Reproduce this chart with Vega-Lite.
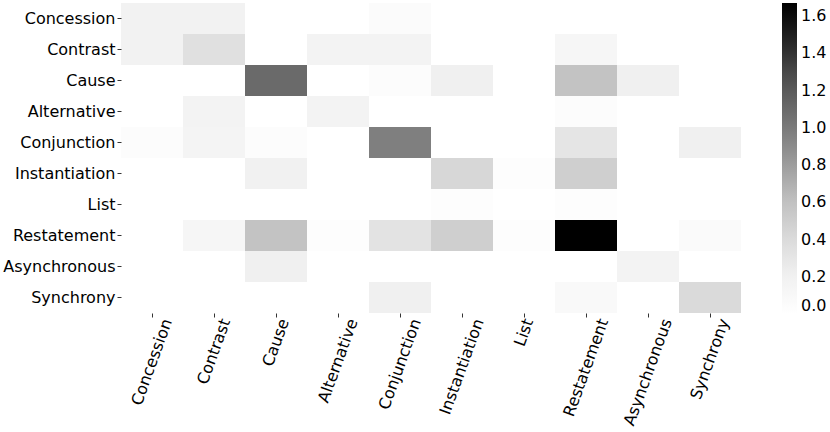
{
  "$schema": "https://vega.github.io/schema/vega-lite/v6.json",
  "width": 620,
  "height": 310,
  "padding": {"left": 2, "top": 3, "right": 0, "bottom": 0},
  "background": "white",
  "config": {
    "view": {"stroke": null},
    "axis": {"labelFont": "DejaVu Sans", "labelFontSize": 16, "labelColor": "#000", "domain": false, "tickColor": "#000", "tickSize": 4, "tickWidth": 0.8, "labelPadding": 2, "title": null, "grid": false},
    "legend": {"labelFont": "DejaVu Sans", "labelFontSize": 16, "labelColor": "#000"}
  },
  "data": {"values": [
    {"row": "Concession", "col": "Concession", "v": 0.18},
    {"row": "Concession", "col": "Contrast", "v": 0.18},
    {"row": "Concession", "col": "Cause", "v": 0},
    {"row": "Concession", "col": "Alternative", "v": 0},
    {"row": "Concession", "col": "Conjunction", "v": 0.055},
    {"row": "Concession", "col": "Instantiation", "v": 0},
    {"row": "Concession", "col": "List", "v": 0},
    {"row": "Concession", "col": "Restatement", "v": 0},
    {"row": "Concession", "col": "Asynchronous", "v": 0},
    {"row": "Concession", "col": "Synchrony", "v": 0},
    {"row": "Contrast", "col": "Concession", "v": 0.18},
    {"row": "Contrast", "col": "Contrast", "v": 0.354},
    {"row": "Contrast", "col": "Cause", "v": 0},
    {"row": "Contrast", "col": "Alternative", "v": 0.167},
    {"row": "Contrast", "col": "Conjunction", "v": 0.167},
    {"row": "Contrast", "col": "Instantiation", "v": 0},
    {"row": "Contrast", "col": "List", "v": 0},
    {"row": "Contrast", "col": "Restatement", "v": 0.125},
    {"row": "Contrast", "col": "Asynchronous", "v": 0},
    {"row": "Contrast", "col": "Synchrony", "v": 0},
    {"row": "Cause", "col": "Concession", "v": 0},
    {"row": "Cause", "col": "Contrast", "v": 0},
    {"row": "Cause", "col": "Cause", "v": 1.10},
    {"row": "Cause", "col": "Alternative", "v": 0},
    {"row": "Cause", "col": "Conjunction", "v": 0.042},
    {"row": "Cause", "col": "Instantiation", "v": 0.209},
    {"row": "Cause", "col": "List", "v": 0},
    {"row": "Cause", "col": "Restatement", "v": 0.581},
    {"row": "Cause", "col": "Asynchronous", "v": 0.209},
    {"row": "Cause", "col": "Synchrony", "v": 0},
    {"row": "Alternative", "col": "Concession", "v": 0},
    {"row": "Alternative", "col": "Contrast", "v": 0.167},
    {"row": "Alternative", "col": "Cause", "v": 0},
    {"row": "Alternative", "col": "Alternative", "v": 0.167},
    {"row": "Alternative", "col": "Conjunction", "v": 0},
    {"row": "Alternative", "col": "Instantiation", "v": 0},
    {"row": "Alternative", "col": "List", "v": 0},
    {"row": "Alternative", "col": "Restatement", "v": 0.042},
    {"row": "Alternative", "col": "Asynchronous", "v": 0},
    {"row": "Alternative", "col": "Synchrony", "v": 0},
    {"row": "Conjunction", "col": "Concession", "v": 0.042},
    {"row": "Conjunction", "col": "Contrast", "v": 0.154},
    {"row": "Conjunction", "col": "Cause", "v": 0.042},
    {"row": "Conjunction", "col": "Alternative", "v": 0},
    {"row": "Conjunction", "col": "Conjunction", "v": 0.972},
    {"row": "Conjunction", "col": "Instantiation", "v": 0},
    {"row": "Conjunction", "col": "List", "v": 0},
    {"row": "Conjunction", "col": "Restatement", "v": 0.309},
    {"row": "Conjunction", "col": "Asynchronous", "v": 0},
    {"row": "Conjunction", "col": "Synchrony", "v": 0.209},
    {"row": "Instantiation", "col": "Concession", "v": 0},
    {"row": "Instantiation", "col": "Contrast", "v": 0},
    {"row": "Instantiation", "col": "Cause", "v": 0.195},
    {"row": "Instantiation", "col": "Alternative", "v": 0},
    {"row": "Instantiation", "col": "Conjunction", "v": 0},
    {"row": "Instantiation", "col": "Instantiation", "v": 0.433},
    {"row": "Instantiation", "col": "List", "v": 0.028},
    {"row": "Instantiation", "col": "Restatement", "v": 0.493},
    {"row": "Instantiation", "col": "Asynchronous", "v": 0},
    {"row": "Instantiation", "col": "Synchrony", "v": 0},
    {"row": "List", "col": "Concession", "v": 0},
    {"row": "List", "col": "Contrast", "v": 0},
    {"row": "List", "col": "Cause", "v": 0},
    {"row": "List", "col": "Alternative", "v": 0},
    {"row": "List", "col": "Conjunction", "v": 0},
    {"row": "List", "col": "Instantiation", "v": 0.028},
    {"row": "List", "col": "List", "v": 0},
    {"row": "List", "col": "Restatement", "v": 0.028},
    {"row": "List", "col": "Asynchronous", "v": 0},
    {"row": "List", "col": "Synchrony", "v": 0},
    {"row": "Restatement", "col": "Concession", "v": 0},
    {"row": "Restatement", "col": "Contrast", "v": 0.125},
    {"row": "Restatement", "col": "Cause", "v": 0.581},
    {"row": "Restatement", "col": "Alternative", "v": 0.028},
    {"row": "Restatement", "col": "Conjunction", "v": 0.327},
    {"row": "Restatement", "col": "Instantiation", "v": 0.493},
    {"row": "Restatement", "col": "List", "v": 0.028},
    {"row": "Restatement", "col": "Restatement", "v": 1.67},
    {"row": "Restatement", "col": "Asynchronous", "v": 0},
    {"row": "Restatement", "col": "Synchrony", "v": 0.07},
    {"row": "Asynchronous", "col": "Concession", "v": 0},
    {"row": "Asynchronous", "col": "Contrast", "v": 0},
    {"row": "Asynchronous", "col": "Cause", "v": 0.209},
    {"row": "Asynchronous", "col": "Alternative", "v": 0},
    {"row": "Asynchronous", "col": "Conjunction", "v": 0},
    {"row": "Asynchronous", "col": "Instantiation", "v": 0},
    {"row": "Asynchronous", "col": "List", "v": 0},
    {"row": "Asynchronous", "col": "Restatement", "v": 0},
    {"row": "Asynchronous", "col": "Asynchronous", "v": 0.167},
    {"row": "Asynchronous", "col": "Synchrony", "v": 0},
    {"row": "Synchrony", "col": "Concession", "v": 0},
    {"row": "Synchrony", "col": "Contrast", "v": 0},
    {"row": "Synchrony", "col": "Cause", "v": 0},
    {"row": "Synchrony", "col": "Alternative", "v": 0},
    {"row": "Synchrony", "col": "Conjunction", "v": 0.209},
    {"row": "Synchrony", "col": "Instantiation", "v": 0},
    {"row": "Synchrony", "col": "List", "v": 0},
    {"row": "Synchrony", "col": "Restatement", "v": 0.083},
    {"row": "Synchrony", "col": "Asynchronous", "v": 0},
    {"row": "Synchrony", "col": "Synchrony", "v": 0.409}
  ]},
  "mark": {"type": "rect", "strokeWidth": 0},
  "encoding": {
    "x": {
      "field": "col", "type": "nominal",
      "sort": ["Concession","Contrast","Cause","Alternative","Conjunction","Instantiation","List","Restatement","Asynchronous","Synchrony"],
      "scale": {"paddingInner": 0, "paddingOuter": 0},
      "axis": {
        "labelAngle": -70, "labelAlign": "right", "labelBaseline": "middle",
        "labelOffset": {"expr": "datum.value == 'Concession' ? 15.5 : datum.value == 'Contrast' ? 11.7 : datum.value == 'Cause' ? 8.4 : datum.value == 'Alternative' ? 15.1 : datum.value == 'Conjunction' ? 16.4 : datum.value == 'Instantiation' ? 17.2 : datum.value == 'List' ? 4.8 : datum.value == 'Restatement' ? 17.7 : datum.value == 'Asynchronous' ? 19.3 : 14.5"}
      }
    },
    "y": {
      "field": "row", "type": "nominal",
      "sort": ["Concession","Contrast","Cause","Alternative","Conjunction","Instantiation","List","Restatement","Asynchronous","Synchrony"],
      "scale": {"paddingInner": 0, "paddingOuter": 0}
    },
    "color": {
      "field": "v", "type": "quantitative",
      "scale": {
        "domain": [0, 0.20875, 0.4175, 0.62625, 0.835, 1.04375, 1.2525, 1.46125, 1.67],
        "range": ["#ffffff", "#f0f0f0", "#d9d9d9", "#bdbdbd", "#969696", "#737373", "#525252", "#252525", "#000000"],
        "interpolate": "rgb"
      },
      "legend": {
        "type": "gradient", "orient": "none", "legendX": 661, "legendY": 0,
        "gradientLength": 311, "gradientThickness": 15, "gradientStrokeWidth": 0,
        "values": [0, 0.2, 0.4, 0.6, 0.8, 1.0, 1.2, 1.4, 1.6],
        "format": ".1f", "title": null, "labelOffset": 4, "labelBaseline": "middle", "labelOverlap": false
      }
    }
  }
}
